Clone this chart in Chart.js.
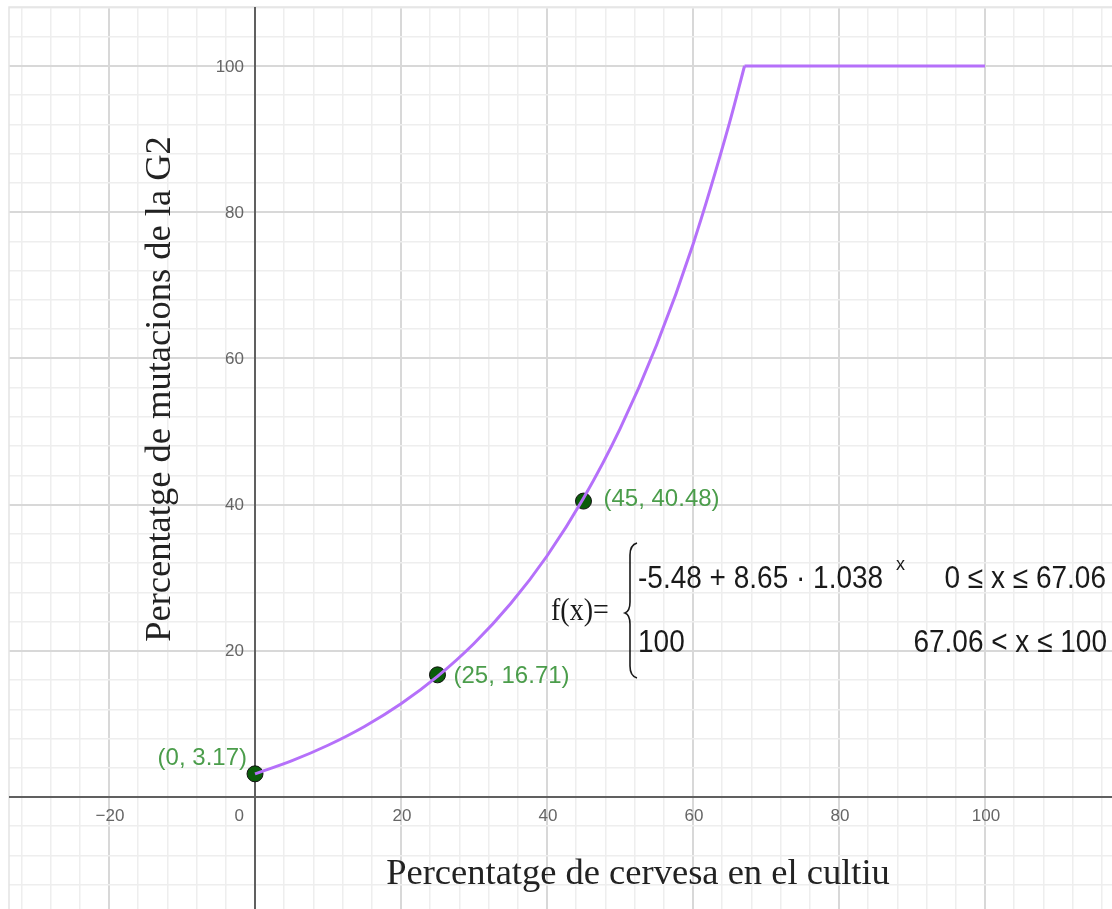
<!DOCTYPE html>
<html>
<head>
<meta charset="utf-8">
<script src="https://cdn.jsdelivr.net/npm/chart.js@4.4.2/dist/chart.umd.min.js"></script>
<style>
  html, body { margin: 0; padding: 0; background: #fff; }
  #wrap { width: 1112px; height: 909px; position: relative; }
</style>
</head>
<body>
<div id="wrap"><canvas id="grafic"></canvas></div>
<script>
// Valors llegits del gràfic
const corbaX = [0, 5, 10, 15, 20, 25, 30, 35, 40, 45, 50, 55, 60, 65, 67.06];
const corbaY = [3.17, 4.94, 7.08, 9.65, 12.76, 16.50, 21.00, 26.43, 32.97, 40.86, 50.35, 61.80, 75.59, 92.21, 100];
const plaX = [67.06, 100];
const plaY = [100, 100];
const puntsX = [0, 25, 45];
const puntsY = [3.17, 16.71, 40.48];
const etiquetesPunts = ['(0, 3.17)', '(25, 16.71)', '(45, 40.48)'];
const ticksX = [-20, 0, 20, 40, 60, 80, 100];
const ticksY = [20, 40, 60, 80, 100];
const titolX = 'Percentatge de cervesa en el cultiu';
const titolY = 'Percentatge de mutacions de la G2';

const toPts = (xs, ys) => xs.map((x, i) => ({ x: x, y: ys[i] }));

const LILA = 'rgb(181,112,250)';
const VERD_TXT = '#4b9d4b';

// posició de cada etiqueta respecte al seu punt
const despl = [
  { dx: -8, dy: -15, align: 'right' },
  { dx: 16, dy: 2, align: 'left' },
  { dx: 20, dy: -2, align: 'left' }
];

// text una mica estirat en vertical, com a la captura original
function textAlt(ctx, txt, x, y, sy) {
  ctx.save();
  ctx.translate(x, y);
  ctx.scale(1, sy);
  ctx.fillText(txt, 0, 0);
  ctx.restore();
}

const pluginEixos = {
  id: 'eixos',
  beforeDatasetsDraw(chart) {
    const { ctx, chartArea: a, scales: { x, y } } = chart;
    const x0 = x.getPixelForValue(0);
    const y0 = y.getPixelForValue(0);
    ctx.save();
    // marc
    ctx.strokeStyle = '#e4e4e4';
    ctx.lineWidth = 1.5;
    ctx.beginPath();
    ctx.moveTo(a.left, a.bottom); ctx.lineTo(a.left, a.top); ctx.lineTo(a.right, a.top);
    ctx.stroke();
    // eixos
    ctx.strokeStyle = '#606060';
    ctx.lineWidth = 2;
    ctx.beginPath();
    ctx.moveTo(a.left, y0); ctx.lineTo(a.right, y0);
    ctx.moveTo(x0, a.top); ctx.lineTo(x0, a.bottom);
    ctx.stroke();
    // etiquetes dels eixos
    ctx.fillStyle = '#666';
    ctx.font = '17px "Liberation Sans", Arial, sans-serif';
    ctx.textBaseline = 'top';
    ticksX.forEach(v => {
      const px = x.getPixelForValue(v);
      const txt = v < 0 ? '\u2212' + Math.abs(v) : String(v);
      if (v === 0) {
        ctx.textAlign = 'right';
        ctx.fillText(txt, x0 - 11, y0 + 11);
      } else {
        ctx.textAlign = 'center';
        ctx.fillText(txt, px + 1, y0 + 11);
      }
    });
    ctx.textAlign = 'right';
    ctx.textBaseline = 'middle';
    ticksY.forEach(v => {
      ctx.fillText(String(v), x0 - 11, y.getPixelForValue(v) + 1);
    });
    ctx.restore();
  },
  afterDraw(chart) {
    const { ctx } = chart;
    ctx.save();
    // etiquetes dels punts
    const meta = chart.getDatasetMeta(2);
    ctx.fillStyle = VERD_TXT;
    ctx.font = '24px "Liberation Sans", Arial, sans-serif';
    ctx.textBaseline = 'middle';
    meta.data.forEach((el, i) => {
      ctx.textAlign = despl[i].align;
      ctx.fillText(etiquetesPunts[i], el.x + despl[i].dx, el.y + despl[i].dy);
    });

    // títols
    ctx.fillStyle = '#222';
    ctx.font = '36.5px "Liberation Serif", "Times New Roman", serif';
    ctx.textAlign = 'center';
    ctx.textBaseline = 'middle';
    ctx.fillText(titolX, 638, 874);
    ctx.translate(160, 389);
    ctx.rotate(-Math.PI / 2);
    ctx.fillText(titolY, 0, 0);
    ctx.setTransform(1, 0, 0, 1, 0, 0);

    // fórmula
    ctx.fillStyle = '#1a1a1a';
    ctx.font = '28px "Liberation Serif", "Times New Roman", serif';
    ctx.textAlign = 'left';
    textAlt(ctx, 'f(x)=', 551, 612, 1.1);
    ctx.strokeStyle = '#1a1a1a';
    ctx.lineWidth = 1.6;
    ctx.beginPath();
    ctx.moveTo(637, 543);
    ctx.quadraticCurveTo(630, 545, 630, 555);
    ctx.lineTo(630, 602);
    ctx.quadraticCurveTo(630, 611, 625, 613);
    ctx.quadraticCurveTo(630, 615, 630, 624);
    ctx.lineTo(630, 666);
    ctx.quadraticCurveTo(630, 676, 637, 678);
    ctx.stroke();
    ctx.font = '28px "Liberation Sans", Arial, sans-serif';
    textAlt(ctx, '-5.48 + 8.65 \u00b7 1.038', 638, 579, 1.12);
    textAlt(ctx, '100', 638, 643, 1.12);
    ctx.font = '18px "Liberation Sans", Arial, sans-serif';
    ctx.fillText('x', 896, 565);
    ctx.font = '28px "Liberation Sans", Arial, sans-serif';
    ctx.textAlign = 'right';
    textAlt(ctx, '0 \u2264 x \u2264 67.06', 1106, 579, 1.12);
    textAlt(ctx, '67.06 < x \u2264 100', 1107, 643, 1.12);
    ctx.restore();
  }
};

const esMajor = v => Math.abs(v % 20) < 1e-9;

const escala = (min, max) => ({
  type: 'linear',
  min: min,
  max: max,
  ticks: { display: false, stepSize: 4, includeBounds: false },
  grid: {
    drawTicks: false,
    color: c => (c.tick && esMajor(c.tick.value)) ? '#d8d8d8' : '#eeeeee',
    lineWidth: c => (c.tick && esMajor(c.tick.value)) ? 2 : 1.5
  },
  border: { display: false }
});

new Chart(document.getElementById('grafic'), {
  type: 'scatter',
  data: {
    datasets: [
      {
        data: toPts(corbaX, corbaY),
        showLine: true,
        borderColor: LILA,
        borderWidth: 3,
        pointRadius: 0,
        cubicInterpolationMode: 'monotone',
        fill: false
      },
      {
        data: toPts(plaX, plaY),
        showLine: true,
        borderColor: LILA,
        borderWidth: 3,
        pointRadius: 0,
        tension: 0,
        fill: false
      },
      {
        data: toPts(puntsX, puntsY),
        showLine: false,
        pointRadius: 8,
        pointBackgroundColor: '#0a5c0a',
        pointBorderColor: '#111',
        pointBorderWidth: 1
      }
    ]
  },
  options: {
    responsive: true,
    maintainAspectRatio: false,
    animation: false,
    layout: { autoPadding: false, padding: { left: 9, top: 7, right: 0, bottom: 0 } },
    plugins: { legend: { display: false }, tooltip: { enabled: false } },
    scales: {
      x: escala(-33.70, 117.40),
      y: escala(-15.32, 108.07)
    }
  },
  plugins: [pluginEixos]
});
</script>
</body>
</html>
